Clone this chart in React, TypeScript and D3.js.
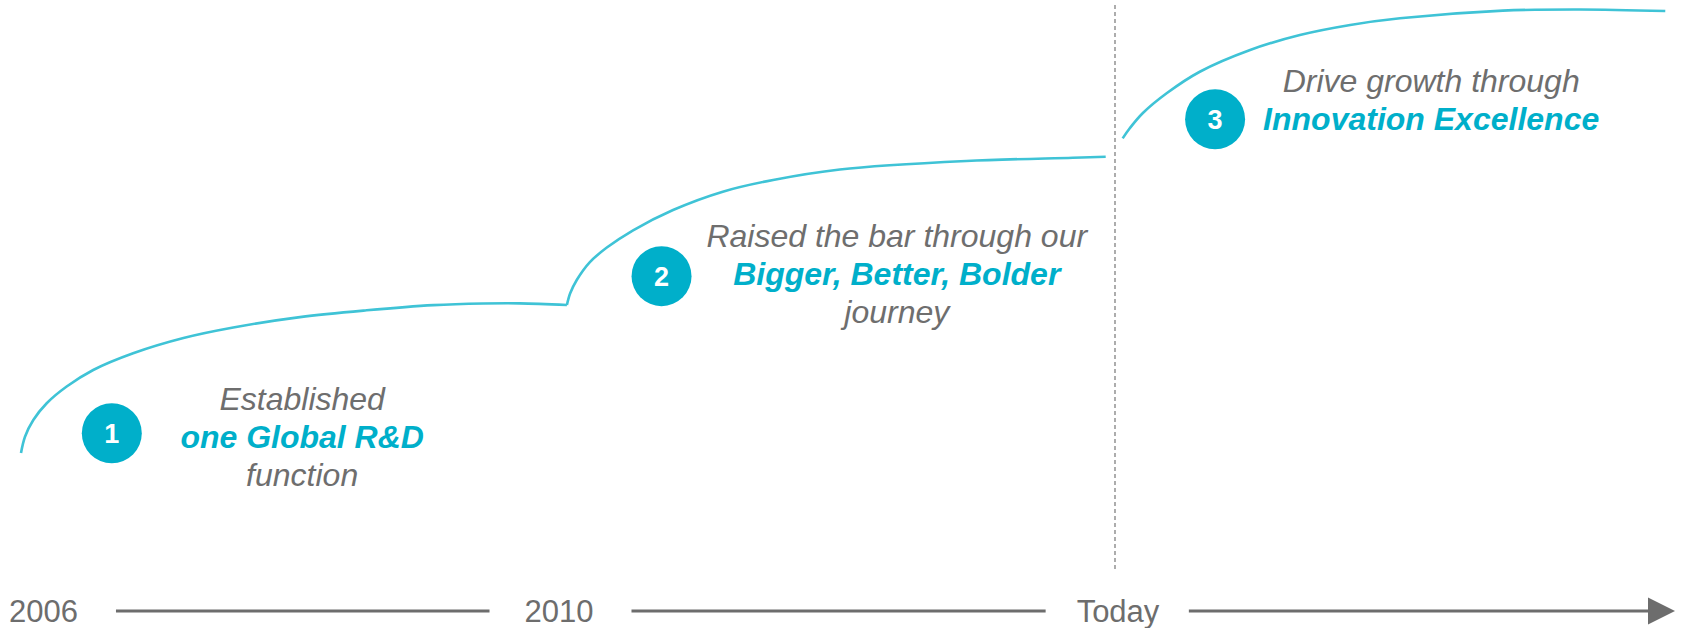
import React, { useEffect, useRef } from 'react';
import * as d3 from 'd3';

const WIDTH = 1683;
const HEIGHT = 628;

// timeline stops along the bottom
const axisLabels = ['2006', '2010', 'Today'];
const axisPhases = [0, 1, 2];

// the three growth waves: phase (x) and maturity level (y)
const wave1Phase = [0, 0.0073, 0.0225, 0.047, 0.0835, 0.132, 0.205, 0.297, 0.388, 0.51, 0.632, 0.754, 0.845, 0.912, 0.998];
const wave1Level = [0, 0.11, 0.223, 0.336, 0.449, 0.561, 0.674, 0.777, 0.848, 0.918, 0.964, 0.999, 1.01, 1.011, 1.0];

const wave2Phase = [0.998, 1.004, 1.016, 1.04, 1.071, 1.119, 1.192, 1.283, 1.375, 1.497, 1.728, 1.923, 1.983];
const wave2Level = [1.0, 1.079, 1.169, 1.29, 1.388, 1.505, 1.642, 1.766, 1.845, 1.916, 1.973, 1.995, 2.002];

const wave3Phase = [2.014, 2.027, 2.051, 2.095, 2.155, 2.247, 2.338, 2.43, 2.521, 2.709, 2.85, 3.006];
const wave3Level = [2.126, 2.194, 2.297, 2.432, 2.576, 2.723, 2.824, 2.892, 2.937, 2.989, 2.997, 2.986];

// numbered steps
const stepNumbers = ['1', '2', '3'];
const stepPhase = [0.166, 1.171, 2.183];
const stepLevel = [0.134, 1.195, 2.255];
const stepTextPhase = [0.514, 1.601, 2.578];
const stepTextLevel = [0.29, 1.392, 2.441];
const stepLines = [
  [['Established', false], ['one Global R&D', true], ['function', false]],
  [['Raised the bar through our', false], ['Bigger, Better, Bolder', true], ['journey', false]],
  [['Drive growth through', false], ['Innovation Excellence', true]],
];

const FONT = '"Liberation Sans", Arial, sans-serif';
const TEAL = '#00afca';
const CURVE = '#3fc3d6';
const GREY_TEXT = '#6e6e6e';
const AXIS = '#6d6d6d';

const App = () => {
  const ref = useRef(null);

  useEffect(() => {
    const svg = d3.select(ref.current);
    svg.selectAll('*').remove();

    const x = d3.scaleLinear().domain([0, 3]).range([21, 1662]);
    const y = d3.scaleLinear().domain([0, 3]).range([453, 9]);

    // dashed "today" marker
    svg.append('line')
      .attr('x1', x(2)).attr('x2', x(2))
      .attr('y1', 5).attr('y2', 569)
      .attr('stroke', '#8a8a8a')
      .attr('stroke-width', 1.4)
      .attr('stroke-dasharray', '4,3');

    // waves
    const line = d3.line<number[]>()
      .x(d => x(d[0]))
      .y(d => y(d[1]))
      .curve(d3.curveCatmullRom.alpha(0.5));

    const waves = [
      [wave1Phase, wave1Level],
      [wave2Phase, wave2Level],
      [wave3Phase, wave3Level],
    ];
    waves.forEach(([ph, lv]) => {
      svg.append('path')
        .datum(ph.map((p, i) => [p, lv[i]]))
        .attr('d', line as any)
        .attr('fill', 'none')
        .attr('stroke', CURVE)
        .attr('stroke-width', 2.6)
        .attr('stroke-linejoin', 'miter');
    });

    // step markers
    stepNumbers.forEach((n, i) => {
      const g = svg.append('g');
      g.append('circle')
        .attr('cx', x(stepPhase[i]))
        .attr('cy', y(stepLevel[i]))
        .attr('r', 30)
        .attr('fill', TEAL);
      g.append('text')
        .attr('x', x(stepPhase[i]))
        .attr('y', y(stepLevel[i]) + 9.5)
        .attr('text-anchor', 'middle')
        .attr('font-family', FONT)
        .attr('font-weight', 'bold')
        .attr('font-size', 27)
        .attr('fill', '#fff')
        .text(n);

      stepLines[i].forEach(([txt, accent], k) => {
        g.append('text')
          .attr('x', x(stepTextPhase[i]))
          .attr('y', y(stepTextLevel[i]) + k * 38)
          .attr('text-anchor', 'middle')
          .attr('font-family', FONT)
          .attr('font-style', 'italic')
          .attr('font-weight', accent ? 'bold' : 'normal')
          .attr('font-size', 32)
          .attr('fill', accent ? TEAL : GREY_TEXT)
          .text(txt as string);
      });
    });

    // bottom time axis
    const axisY = 611;
    const nudge = [-12, -9, 3];
    const boxes: { left: number; right: number }[] = [];
    axisLabels.forEach((lab, i) => {
      const t = svg.append('text')
        .attr('x', x(axisPhases[i]) + nudge[i])
        .attr('y', 622)
        .attr('text-anchor', i === 0 ? 'start' : 'middle')
        .attr('font-family', FONT)
        .attr('font-size', 31)
        .attr('fill', AXIS)
        .text(lab);
      const bb = (t.node() as SVGTextElement).getBBox();
      boxes.push({ left: bb.x, right: bb.x + bb.width });
    });

    const arrowTip = 1675;
    const arrowBase = 1648;
    const segs = [
      [boxes[0].right + 38, boxes[1].left - 35],
      [boxes[1].right + 38, boxes[2].left - 31],
      [boxes[2].right + 29, arrowBase],
    ];
    segs.forEach(([a, b]) => {
      svg.append('line')
        .attr('x1', a).attr('x2', b)
        .attr('y1', axisY).attr('y2', axisY)
        .attr('stroke', AXIS)
        .attr('stroke-width', 3);
    });
    svg.append('path')
      .attr('d', `M${arrowBase},${axisY - 13.5}L${arrowTip},${axisY}L${arrowBase},${axisY + 13.5}Z`)
      .attr('fill', AXIS);
  }, []);

  return (
    <svg
      ref={ref}
      width={WIDTH}
      height={HEIGHT}
      style={{ position: 'absolute', left: 0, top: 0, background: '#fff' }}
    />
  );
};

export default App;
